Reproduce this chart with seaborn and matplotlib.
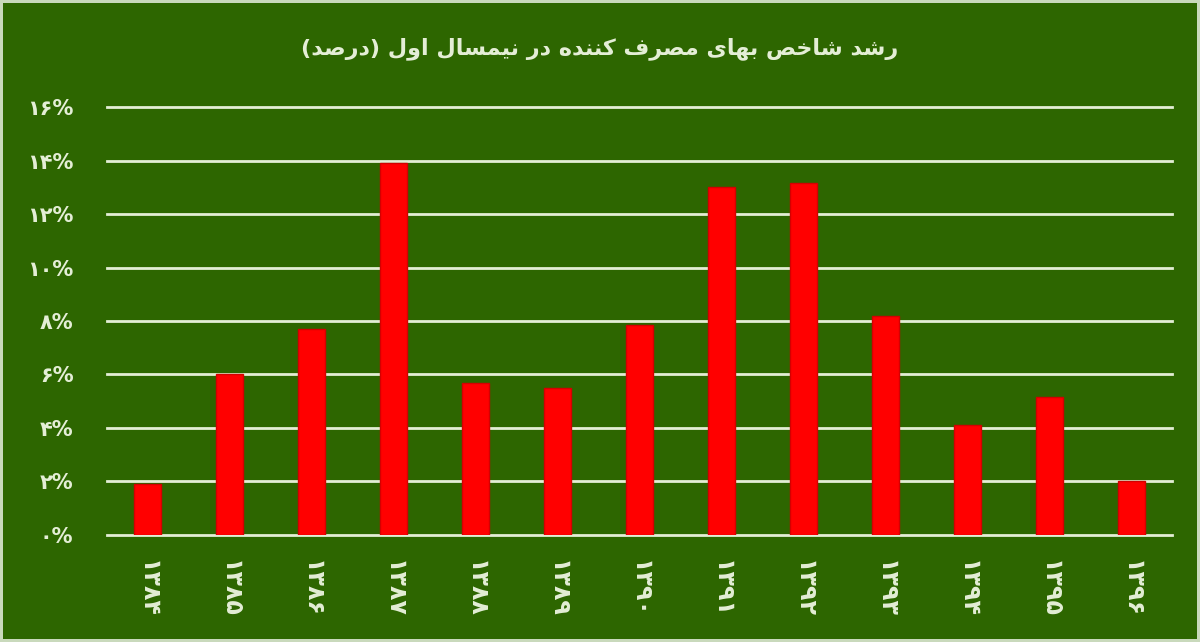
import matplotlib
matplotlib.use("Agg")
import matplotlib.pyplot as plt
import seaborn as sns

# داده ها
years = ["۱۳۸۴", "۱۳۸۵", "۱۳۸۶", "۱۳۸۷", "۱۳۸۸", "۱۳۸۹", "۱۳۹۰",
         "۱۳۹۱", "۱۳۹۲", "۱۳۹۳", "۱۳۹۴", "۱۳۹۵", "۱۳۹۶"]
values = [1.9, 6.0, 7.7, 13.9, 5.7, 5.5, 7.85, 13.0, 13.15, 8.2, 4.1, 5.15, 2.0]
yticks = [0, 2, 4, 6, 8, 10, 12, 14, 16]
title = "رشد شاخص بهای مصرف کننده در نیمسال اول (درصد)"

GREEN = "#2d6600"
LIGHT = "#e4eed6"

# شکل دادن حروف فارسی (matplotlib خودش اتصال و راست به چپ ندارد)
FORMS = {
    "ا": ("\uFE8D", "\uFE8E", None, None),
    "ب": ("\uFE8F", "\uFE90", "\uFE91", "\uFE92"),
    "خ": ("\uFEA5", "\uFEA6", "\uFEA7", "\uFEA8"),
    "د": ("\uFEA9", "\uFEAA", None, None),
    "ر": ("\uFEAD", "\uFEAE", None, None),
    "س": ("\uFEB1", "\uFEB2", "\uFEB3", "\uFEB4"),
    "ش": ("\uFEB5", "\uFEB6", "\uFEB7", "\uFEB8"),
    "ص": ("\uFEB9", "\uFEBA", "\uFEBB", "\uFEBC"),
    "ف": ("\uFED1", "\uFED2", "\uFED3", "\uFED4"),
    "ل": ("\uFEDD", "\uFEDE", "\uFEDF", "\uFEE0"),
    "م": ("\uFEE1", "\uFEE2", "\uFEE3", "\uFEE4"),
    "ن": ("\uFEE5", "\uFEE6", "\uFEE7", "\uFEE8"),
    "ه": ("\uFEE9", "\uFEEA", "\uFEEB", "\uFEEC"),
    "و": ("\uFEED", "\uFEEE", None, None),
    "ک": ("\uFB8E", "\uFB8F", "\uFB90", "\uFB91"),
    "ی": ("\uFBFC", "\uFBFD", "\uFBFE", "\uFBFF"),
}


def shape(text):
    out = []
    for i, ch in enumerate(text):
        if ch not in FORMS:
            out.append(ch)
            continue
        prev = text[i - 1] if i > 0 else ""
        nxt = text[i + 1] if i + 1 < len(text) else ""
        f = FORMS[ch]
        join_prev = prev in FORMS and FORMS[prev][2] is not None
        join_next = nxt in FORMS and f[2] is not None
        if join_prev and join_next:
            out.append(f[3])
        elif join_prev:
            out.append(f[1])
        elif join_next:
            out.append(f[2])
        else:
            out.append(f[0])
    mirror = {"(": ")", ")": "("}
    return "".join(mirror.get(c, c) for c in reversed(out))


plt.rcParams["font.family"] = ["DejaVu Sans"]

fig = plt.figure(figsize=(12, 6.42), dpi=100, facecolor=GREEN,
                 edgecolor="#c9d9bc", linewidth=4)
ax = fig.add_axes([0.089, 0.1667, 0.888, 0.6666])
ax.set_facecolor(GREEN)

sns.barplot(x=years, y=values, color="#ff0000", width=0.33,
            edgecolor="#d40000", linewidth=1, saturation=1, ax=ax)

ax.set_xlim(-0.5, len(years) - 0.5)
ax.set_ylim(0, 16)
ax.set_axisbelow(True)
ax.yaxis.grid(True, color=LIGHT, linewidth=2)
for gl in ax.get_ygridlines():
    gl.set_clip_on(False)
ax.xaxis.grid(False)
for s in ax.spines.values():
    s.set_visible(False)

ax.set_yticks(yticks)
ax.set_yticklabels([str(v).translate(str.maketrans("0123456789", "۰۱۲۳۴۵۶۷۸۹")) + "%"
                    for v in yticks])
ax.tick_params(axis="y", length=0, pad=24, labelsize=15, labelcolor=LIGHT)
ax.tick_params(axis="x", length=0, pad=18, labelsize=17, labelcolor=LIGHT,
               labelrotation=270)
for lbl in ax.get_yticklabels():
    lbl.set_fontweight("bold")
for lbl in ax.get_xticklabels():
    lbl.set_fontweight("bold")
ax.set_xlabel("")
ax.set_ylabel("")

fig.text(0.5, 0.925, shape(title), ha="center", va="center",
         fontsize=16, fontweight="bold", color=LIGHT)

fig.savefig("out.png", dpi=100, facecolor=GREEN, edgecolor="#c9d9bc")
